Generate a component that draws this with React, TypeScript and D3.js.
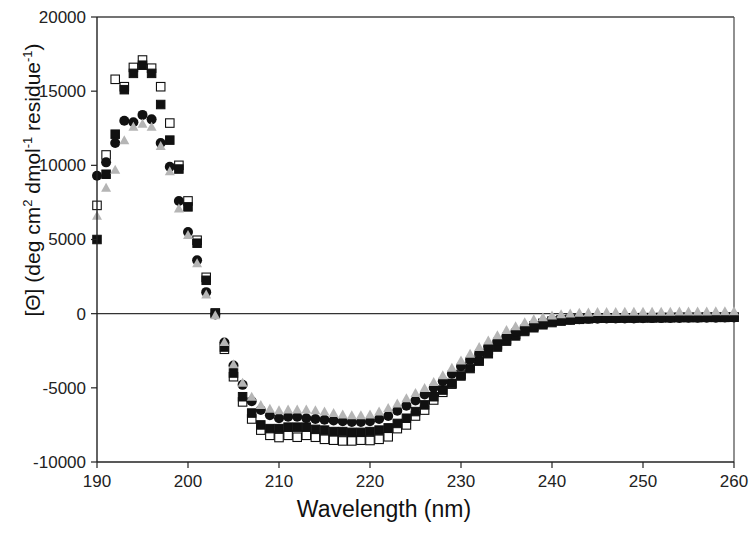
import React from "react";
import * as d3 from "d3";

const wavelengths = [
  190, 191, 192, 193, 194, 195, 196, 197, 198, 199,
  200, 201, 202, 203, 204, 205, 206, 207, 208, 209,
  210, 211, 212, 213, 214, 215, 216, 217, 218, 219,
  220, 221, 222, 223, 224, 225, 226, 227, 228, 229,
  230, 231, 232, 233, 234, 235, 236, 237, 238, 239,
  240, 241, 242, 243, 244, 245, 246, 247, 248, 249,
  250, 251, 252, 253, 254, 255, 256, 257, 258, 259, 260,
];

const openSquares = [
  7300, 10700, 15800, 15300, 16600, 17100, 16550, 15300, 12850, 10000,
  7600, 4950, 2450, 50, -2400, -4250, -5950, -7100, -7850, -8200,
  -8350, -8200, -8330, -8200, -8330, -8470, -8530, -8580, -8580, -8530,
  -8550, -8470, -8300, -7750, -7500, -6900, -6500, -5820, -5300, -4750,
  -4100, -3550, -3000, -2450, -2100, -1750, -1400, -1100, -850, -650,
  -500, -420, -380, -340, -320, -300, -290, -290, -280, -280,
  -270, -270, -260, -260, -250, -250, -250, -240, -240, -240, -230,
];

const filledSquares = [
  5000, 9400, 12100, 15100, 16200, 16750, 16200, 14100, 11700, 9750,
  7200, 4750, 2250, 0, -2250, -4000, -5600, -6700, -7500, -7750,
  -7750, -7650, -7650, -7650, -7800, -7850, -7950, -7950, -8000, -8000,
  -7950, -7850, -7700, -7400, -7050, -6600, -6150, -5600, -5150, -4700,
  -4200, -3700, -3200, -2700, -2250, -1850, -1500, -1200, -950, -750,
  -600, -500, -430, -380, -340, -310, -300, -300, -290, -290,
  -280, -280, -270, -270, -260, -260, -260, -250, -250, -250, -240,
];

const circles = [
  9300, 10200, 11500, 13000, 12900, 13400, 13100, 11500, 9900, 7600,
  5500, 3600, 1450, -50, -1950, -3500, -4800, -5900, -6500, -6850,
  -7050, -6950, -6950, -7050, -7100, -7150, -7200, -7250, -7300, -7300,
  -7250, -7100, -6900, -6550, -6200, -5850, -5450, -5000, -4550, -4050,
  -3550, -3100, -2650, -2200, -1850, -1500, -1200, -950, -750, -600,
  -500, -450, -400, -380, -350, -340, -330, -330, -320, -320,
  -310, -300, -300, -290, -290, -280, -280, -270, -270, -260, -260,
];

const triangles = [
  6600, 8500, 9700, 11700, 12600, 12800, 12600, 11300, 9600, 7100,
  5300, 3400, 1300, -100, -1900, -3400, -4650, -5600, -6150, -6400,
  -6500, -6450, -6450, -6450, -6500, -6600, -6700, -6800, -6850, -6850,
  -6800, -6600, -6350, -6050, -5700, -5350, -5000, -4600, -4150, -3650,
  -3150, -2700, -2250, -1800, -1450, -1100, -850, -580, -380, -240,
  -120, -40, 20, 60, 90, 110, 120, 120, 130, 130,
  130, 140, 140, 140, 150, 150, 150, 150, 160, 160, 160,
];

const xTicks = [190, 200, 210, 220, 230, 240, 250, 260];
const yTicks = [-10000, -5000, 0, 5000, 10000, 15000, 20000];

const W = 755;
const H = 533;
const margin = { left: 97, right: 21, top: 17, bottom: 71 };

export default function App() {
  const x = d3
    .scaleLinear()
    .domain([190, 260])
    .range([margin.left, W - margin.right]);
  const y = d3
    .scaleLinear()
    .domain([-10000, 20000])
    .range([H - margin.bottom, margin.top]);

  const font = "'Liberation Sans', Arial, sans-serif";
  const axisColor = "#222";
  const x0 = x(190);
  const x1 = x(260);
  const y0 = y(-10000);
  const y1 = y(20000);

  const sq = 8.5;
  const triPath = (cx: number, cy: number) => {
    const w = 10;
    const h = 9;
    return `M${cx},${cy - h * 0.55}L${cx + w / 2},${cy + h * 0.45}L${cx - w / 2},${cy + h * 0.45}Z`;
  };

  return (
    <svg
      width={W}
      height={H}
      style={{ position: "absolute", left: 0, top: 0, background: "#fff" }}
      fontFamily={font}
    >
      <rect x={0} y={0} width={W} height={H} fill="#fff" />
      {/* frame */}
      <line x1={x0} x2={x1} y1={y1} y2={y1} stroke="#444" strokeWidth={1.3} />
      <line x1={x1} x2={x1} y1={y1} y2={y0} stroke="#555" strokeWidth={1.3} />
      {/* zero line */}
      <line x1={x0} x2={x1} y1={y(0)} y2={y(0)} stroke="#333" strokeWidth={1.4} />

      {/* series */}
      <g>
        {wavelengths.map((w, i) => (
          <rect
            key={"o" + i}
            x={x(w) - sq / 2}
            y={y(openSquares[i]) - sq / 2}
            width={sq}
            height={sq}
            fill="#fff"
            stroke="#111"
            strokeWidth={1.1}
          />
        ))}
      </g>
      <g>
        {wavelengths.map((w, i) => (
          <rect
            key={"f" + i}
            x={x(w) - sq / 2}
            y={y(filledSquares[i]) - sq / 2}
            width={sq}
            height={sq}
            fill="#111"
            stroke="#111"
            strokeWidth={1}
          />
        ))}
      </g>
      <g>
        {wavelengths.map((w, i) => (
          <circle
            key={"c" + i}
            cx={x(w)}
            cy={y(circles[i])}
            r={5}
            fill="#111"
          />
        ))}
      </g>
      <g>
        {wavelengths.map((w, i) => (
          <path
            key={"t" + i}
            d={triPath(x(w), y(triangles[i]))}
            fill="#b5b5b5"
          />
        ))}
      </g>

      {/* axes */}
      <line x1={x0} x2={x0} y1={y1} y2={y0} stroke={axisColor} strokeWidth={1.4} />
      <line x1={x0} x2={x1} y1={y0} y2={y0} stroke={axisColor} strokeWidth={1.4} />
      {yTicks.map((t) => (
        <g key={"yt" + t}>
          <line x1={x0 - 6} x2={x0} y1={y(t)} y2={y(t)} stroke={axisColor} strokeWidth={1.2} />
          <text
            x={x0 - 11}
            y={y(t)}
            dy="0.35em"
            textAnchor="end"
            fontSize={17}
            fill="#222"
          >
            {t}
          </text>
        </g>
      ))}
      {xTicks.map((t) => (
        <g key={"xt" + t}>
          <line x1={x(t)} x2={x(t)} y1={y0} y2={y0 + 6} stroke={axisColor} strokeWidth={1.2} />
          <text
            x={x(t)}
            y={y0 + 25}
            textAnchor="middle"
            fontSize={17}
            fill="#222"
          >
            {t}
          </text>
        </g>
      ))}

      <text x={384} y={517} textAnchor="middle" fontSize={23} fill="#111">
        Wavelength (nm)
      </text>

      <text
        transform="translate(40,180) rotate(-90)"
        textAnchor="middle"
        fontSize={21}
        fill="#111"
      >
        [Θ] (deg cm
        <tspan fontSize={13} dy={-8}>2</tspan>
        <tspan dy={8}> dmol</tspan>
        <tspan fontSize={13} dy={-8}>-1</tspan>
        <tspan dy={8}> residue</tspan>
        <tspan fontSize={13} dy={-8}>-1</tspan>
        <tspan dy={8}>)</tspan>
      </text>
    </svg>
  );
}
